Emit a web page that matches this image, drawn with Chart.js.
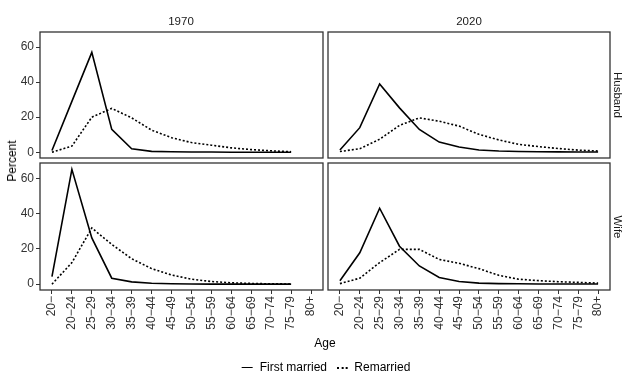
<!DOCTYPE html>
<html>
<head>
<meta charset="utf-8">
<script src="https://cdn.jsdelivr.net/npm/chart.js@4/dist/chart.umd.min.js"></script>
<style>
    body { margin: 0; background: #fff; }
    #wrap {
        position: relative; width: 627px; height: 376px; overflow: hidden;
        font-family: "Liberation Sans", Arial, sans-serif; color: #000;
    }
    canvas { position: absolute; }
    .lbl { position: absolute; white-space: nowrap; font-size: 12px; transform: translate(-50%, -50%); }
    .strip { font-size: 11.5px; color: #1a1a1a; }
    .rot90 { transform: translate(-50%, -50%) rotate(90deg); }
    .rot270 { transform: translate(-50%, -50%) rotate(-90deg); }
    .key { display: inline-block; width: 11px; vertical-align: middle; margin-right: 7px; }
</style>
</head>
<body>
<div id="wrap">
    <canvas id="panelTL" width="330" height="146" style="left:0;top:22px"></canvas>
    <canvas id="panelTR" width="300" height="146" style="left:320px;top:22px"></canvas>
    <canvas id="panelBL" width="330" height="190" style="left:0;top:153px"></canvas>
    <canvas id="panelBR" width="300" height="190" style="left:320px;top:153px"></canvas>

    <div class="lbl strip" style="left:181px;top:21px">1970</div>
    <div class="lbl strip" style="left:469px;top:21px">2020</div>
    <div class="lbl strip rot90" style="left:618px;top:95px">Husband</div>
    <div class="lbl strip rot90" style="left:618px;top:227px">Wife</div>
    <div class="lbl rot270" style="left:12px;top:161px">Percent</div>
    <div class="lbl" style="left:325px;top:343px">Age</div>
    <div class="lbl" style="left:326px;top:367px">
        <span class="key" style="border-top:1.6px solid #000"></span>First married
        <span class="key" style="border-top:2px dotted #000;margin-left:6px"></span>Remarried
    </div>
</div>

<script>
// --------------------
// Data
// --------------------
const ageGroups = ['20\u2212', '20\u221224', '25\u221229', '30\u221234', '35\u221239', '40\u221244', '45\u221249',
    '50\u221254', '55\u221259', '60\u221264', '65\u221269', '70\u221274', '75\u221279', '80+'];
const yTicks = [0, 20, 40, 60];

const husband1970First = [1, 29, 57, 13, 2, 0.5, 0.3, 0.1, 0.1, 0, 0, 0, 0];
const husband1970Re = [0, 3.5, 20, 25, 19.6, 12.6, 8.3, 5.5, 4, 2.5, 1.5, 0.8, 0.3];
const husband2020First = [1.3, 14, 39, 25.3, 13, 5.8, 3, 1.3, 0.7, 0.4, 0.3, 0.2, 0.1, 0.1];
const husband2020Re = [0.4, 2, 7.4, 15.3, 19.6, 17.7, 14.9, 10.2, 7, 4.5, 3.2, 2.1, 1.2, 0.7];
const wife1970First = [4.3, 65, 26.2, 3.4, 1.3, 0.5, 0.2, 0.1, 0, 0, 0, 0, 0];
const wife1970Re = [0, 12.2, 31.8, 22.5, 14.4, 8.8, 5.2, 2.8, 1.5, 0.8, 0.4, 0.2, 0.1];
const wife2020First = [1.9, 17.8, 43, 21.5, 10.3, 3.8, 1.5, 0.6, 0.3, 0.2, 0.1, 0.1, 0.1, 0.1];
const wife2020Re = [0.3, 3.4, 12.2, 19.7, 19.7, 14, 11.8, 8.8, 5, 2.8, 2, 1.4, 1, 0.6];

// --------------------
// Helpers
// --------------------
const font = { family: '"Liberation Sans", Arial, sans-serif', size: 12 };

function toPoints(values) {
    return values.map((v, i) => ({ x: i, y: v }));
}

// draws the box round each facet
const panelBorder = {
    id: 'panelBorder',
    afterDatasetsDraw(chart) {
        const { ctx, chartArea: a } = chart;
        ctx.save();
        ctx.strokeStyle = '#333';
        ctx.lineWidth = 1.3;
        ctx.strokeRect(a.left, a.top, a.right - a.left, a.bottom - a.top);
        ctx.restore();
    }
};

function makePanel(id, first, re, showX, showY, padding) {
    const ctx = document.getElementById(id).getContext('2d');
    return new Chart(ctx, {
        type: 'line',
        data: {
            datasets: [
                { label: 'First married', data: toPoints(first), borderColor: '#000',
                  borderWidth: 1.6, pointRadius: 0, tension: 0 },
                { label: 'Remarried', data: toPoints(re), borderColor: '#000',
                  borderWidth: 1.6, borderDash: [2, 2], pointRadius: 0, tension: 0 }
            ]
        },
        options: {
            responsive: false,
            animation: false,
            layout: { padding: padding },
            plugins: { legend: { display: false }, tooltip: { enabled: false } },
            scales: {
                x: {
                    type: 'linear',
                    display: showX,
                    min: -0.6,
                    max: ageGroups.length - 0.4,
                    afterBuildTicks: scale => { scale.ticks = ageGroups.map((_, i) => ({ value: i })); },
                    afterFit: scale => { if (showX) scale.height = 53; },
                    grid: { drawOnChartArea: false, tickLength: 4, color: '#333' },
                    border: { display: false },
                    ticks: {
                        autoSkip: false, minRotation: 90, maxRotation: 90, padding: 2,
                        color: '#333', font: font,
                        callback: v => ageGroups[v]
                    }
                },
                y: {
                    display: showY,
                    min: -3.3,
                    max: 68.6,
                    afterBuildTicks: scale => { scale.ticks = yTicks.map(v => ({ value: v })); },
                    afterFit: scale => { if (showY) scale.width = 40; },
                    grid: { drawOnChartArea: false, tickLength: 4, color: '#333' },
                    border: { display: false },
                    ticks: { padding: 2, color: '#333', font: font }
                }
            }
        },
        plugins: [panelBorder]
    });
}

// --------------------
// Facets
// --------------------
makePanel('panelTL', husband1970First, husband1970Re, false, true, { top: 10, bottom: 10, left: 0, right: 7 });
makePanel('panelTR', husband2020First, husband2020Re, false, false, { top: 10, bottom: 10, left: 8, right: 10 });
makePanel('panelBL', wife1970First, wife1970Re, true, true, { top: 10, bottom: 0, left: 0, right: 7 });
makePanel('panelBR', wife2020First, wife2020Re, true, false, { top: 10, bottom: 0, left: 8, right: 10 });
</script>
</body>
</html>
